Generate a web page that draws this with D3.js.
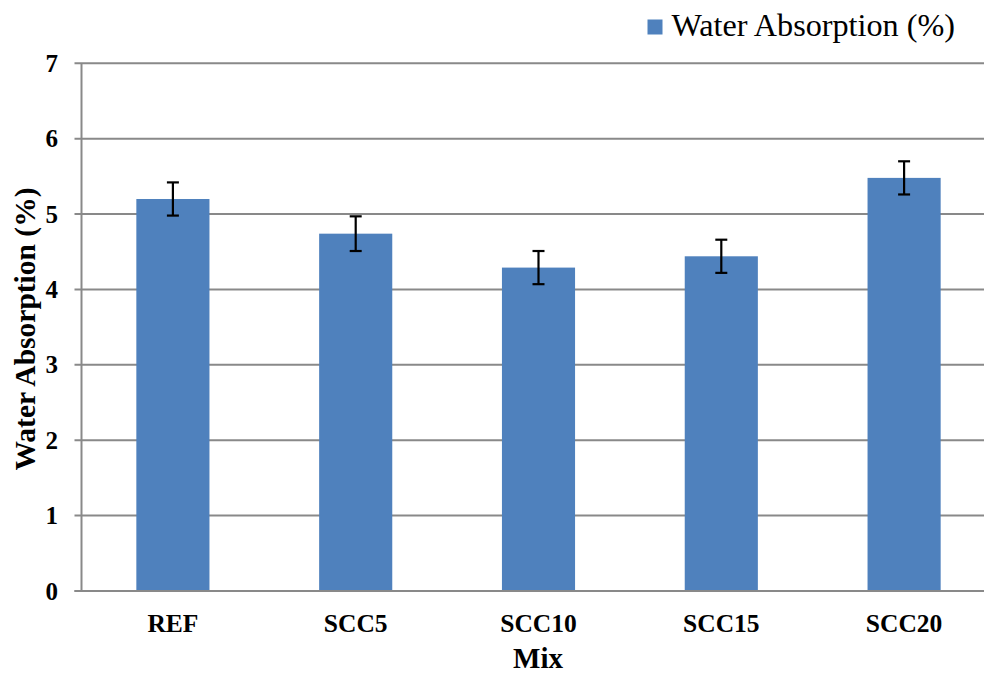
<!DOCTYPE html>
<html>
<head>
<meta charset="utf-8">
<script src="https://cdn.jsdelivr.net/npm/d3@7"></script>
<style>
  html, body { margin: 0; padding: 0; background: #fff; }
  svg { display: block; }
  text { font-family: "Liberation Serif", "Times New Roman", Tinos, "DejaVu Serif", "Noto Serif", serif; }
</style>
</head>
<body>
<svg id="chart" width="984" height="673"></svg>
<script>
const categories = ["REF", "SCC5", "SCC10", "SCC15", "SCC20"];
const values = [5.20, 4.74, 4.29, 4.44, 5.48];
const errors = [0.22, 0.23, 0.22, 0.22, 0.22];
const yTicks = [0, 1, 2, 3, 4, 5, 6, 7];
const seriesName = "Water Absorption (%)";
const xTitle = "Mix";
const yTitle = "Water Absorption (%)";

(function () {
const svg = d3.select("#chart");
const plotLeft = 81.5, plotRight = 995.5, plotTop = 63.3, plotBottom = 591;
const barColor = "#4F81BD";
const gridColor = "#898989";

const x = d3.scaleBand().domain(categories).range([plotLeft, plotRight]).paddingInner(0.6).paddingOuter(0.3);
const y = d3.scaleLinear().domain([0, 7]).range([plotBottom, plotTop]);

svg.append("g").selectAll("line").data(yTicks).join("line")
  .attr("x1", plotLeft - 7).attr("x2", plotRight)
  .attr("y1", d => y(d)).attr("y2", d => y(d))
  .attr("stroke", gridColor).attr("stroke-width", 2);

svg.append("line").attr("x1", plotLeft).attr("x2", plotLeft).attr("y1", plotTop).attr("y2", plotBottom)
  .attr("stroke", gridColor).attr("stroke-width", 2);

svg.append("g").selectAll("text").data(yTicks).join("text")
  .attr("x", 58).attr("y", d => y(d) + 8.5)
  .attr("text-anchor", "end")
  .attr("font-weight", "bold").attr("font-size", 25)
  .text(d => d);

svg.append("g").selectAll("rect").data(values).join("rect")
  .attr("x", (d, i) => x(categories[i]))
  .attr("width", x.bandwidth())
  .attr("y", d => y(d))
  .attr("height", d => y(0) - y(d))
  .attr("fill", barColor);

svg.append("line").attr("x1", plotLeft - 7).attr("x2", plotRight).attr("y1", y(0)).attr("y2", y(0))
  .attr("stroke", gridColor).attr("stroke-width", 2);

const eg = svg.append("g").attr("stroke", "#000").attr("stroke-width", 2.2);
values.forEach((v, i) => {
  const cx = x(categories[i]) + x.bandwidth() / 2;
  const y1 = y(v + errors[i]), y2 = y(v - errors[i]);
  eg.append("line").attr("x1", cx).attr("x2", cx).attr("y1", y1).attr("y2", y2);
  eg.append("line").attr("x1", cx - 6).attr("x2", cx + 6).attr("y1", y1).attr("y2", y1);
  eg.append("line").attr("x1", cx - 6).attr("x2", cx + 6).attr("y1", y2).attr("y2", y2);
});

svg.append("g").selectAll("text").data(categories).join("text")
  .attr("x", d => x(d) + x.bandwidth() / 2).attr("y", 631.5)
  .attr("text-anchor", "middle")
  .attr("font-weight", "bold").attr("font-size", 25.5)
  .text(d => d);

svg.append("text").attr("x", 538).attr("y", 668)
  .attr("text-anchor", "middle")
  .attr("font-weight", "bold").attr("font-size", 29)
  .text(xTitle);

svg.append("text").attr("transform", "translate(35,329) rotate(-90)")
  .attr("text-anchor", "middle")
  .attr("font-weight", "bold").attr("font-size", 29.5)
  .text(yTitle);

svg.append("rect").attr("x", 647.5).attr("y", 19.5).attr("width", 15).attr("height", 15).attr("fill", barColor);
svg.append("text").attr("x", 671.5).attr("y", 36)
  .attr("font-size", 32.2)
  .text(seriesName);
})();
</script>
</body>
</html>
